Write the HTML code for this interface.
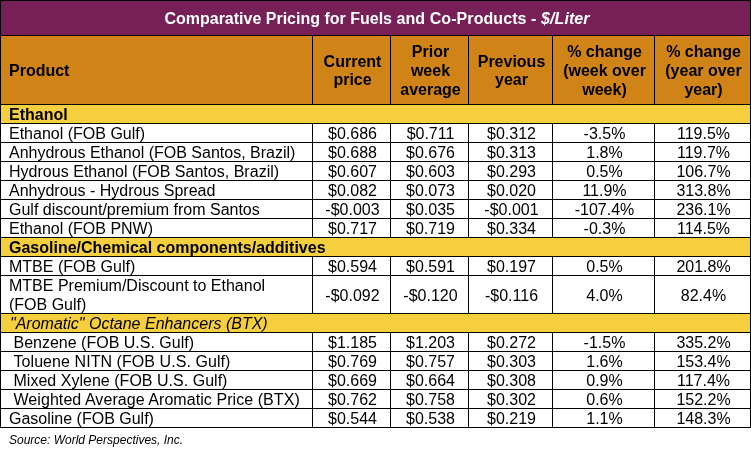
<!DOCTYPE html>
<html>
<head>
<meta charset="utf-8">
<title>Comparative Pricing for Fuels and Co-Products</title>
<style>
html,body{margin:0;padding:0;background:#fff;}
body{width:751px;height:449px;overflow:hidden;font-family:"Liberation Sans",sans-serif;font-size:16px;color:#000;}
table{border-collapse:separate;border-spacing:0;table-layout:fixed;width:751px;border-top:1px solid #000;border-left:1px solid #000;}
td,th{box-sizing:border-box;border-right:1px solid #000;border-bottom:1px solid #000;padding:2px 0 0 2px;margin:0;height:19px;line-height:16px;font-weight:normal;text-align:center;vertical-align:middle;white-space:nowrap;overflow:hidden;}
td.l,th.l{text-align:left;padding-left:8px;}
tr.title th{height:35px;padding:2px 0 0 3px;line-height:32px;background:#772057;color:#fff;font-weight:bold;}
tr.head th.h2{line-height:18px;padding-top:1px;}
tr.title .ls{letter-spacing:0.08px;}
tr.head th{height:69px;padding-top:0;background:#d08418;font-weight:bold;line-height:19px;}
tr.sec td{background:#f6cf3f;text-align:left;padding-left:8px;font-weight:bold;}
tr.sec.it td{font-weight:normal;font-style:italic;padding-left:9px;}
tr.two td{height:38px;padding-top:2px;line-height:19px;}
tr.two td.l{vertical-align:top;padding-top:0;}
tr.two td.l div{height:37px;line-height:19px;}
td.l.ind{padding-left:12.5px;}
.src{position:absolute;left:9px;top:433px;font-size:12px;font-style:italic;line-height:14px;}
</style>
</head>
<body>
<table>
<colgroup><col style="width:312px"><col style="width:78px"><col style="width:78px"><col style="width:84px"><col style="width:102px"><col style="width:96px"></colgroup>
<tr class="title"><th colspan="6">Comparative Pricing for Fuels <span class="ls">and Co-Products - <i>$/Liter</i></span></th></tr>
<tr class="head"><th class="l">Product</th><th class="h2">Current<br>price</th><th>Prior<br>week<br>average</th><th class="h2">Previous<br>year</th><th>% change<br>(week over<br>week)</th><th>% change<br>(year over<br>year)</th></tr>
<tr class="sec"><td colspan="6">Ethanol</td></tr>
<tr><td class="l">Ethanol (FOB Gulf)</td><td>$0.686</td><td>$0.711</td><td>$0.312</td><td>-3.5%</td><td>119.5%</td></tr>
<tr><td class="l">Anhydrous Ethanol (FOB Santos, Brazil)</td><td>$0.688</td><td>$0.676</td><td>$0.313</td><td>1.8%</td><td>119.7%</td></tr>
<tr><td class="l" style="letter-spacing:0.02px">Hydrous Ethanol (FOB Santos, Brazil)</td><td>$0.607</td><td>$0.603</td><td>$0.293</td><td>0.5%</td><td>106.7%</td></tr>
<tr><td class="l">Anhydrous - Hydrous Spread</td><td>$0.082</td><td>$0.073</td><td>$0.020</td><td>11.9%</td><td>313.8%</td></tr>
<tr><td class="l">Gulf discount/premium from Santos</td><td>-$0.003</td><td>$0.035</td><td>-$0.001</td><td>-107.4%</td><td>236.1%</td></tr>
<tr><td class="l">Ethanol (FOB PNW)</td><td>$0.717</td><td>$0.719</td><td>$0.334</td><td>-0.3%</td><td>114.5%</td></tr>
<tr class="sec"><td colspan="6">Gasoline/Chemical components/additives</td></tr>
<tr><td class="l">MTBE (FOB Gulf)</td><td>$0.594</td><td>$0.591</td><td>$0.197</td><td>0.5%</td><td>201.8%</td></tr>
<tr class="two"><td class="l"><div>MTBE Premium/Discount to Ethanol<br>(FOB Gulf)</div></td><td>-$0.092</td><td>-$0.120</td><td>-$0.116</td><td>4.0%</td><td>82.4%</td></tr>
<tr class="sec it"><td colspan="6">"Aromatic" Octane Enhancers (BTX)</td></tr>
<tr><td class="l ind">Benzene (FOB U.S. Gulf)</td><td>$1.185</td><td>$1.203</td><td>$0.272</td><td>-1.5%</td><td>335.2%</td></tr>
<tr><td class="l ind" style="letter-spacing:0.065px">Toluene NITN (FOB U.S. Gulf)</td><td>$0.769</td><td>$0.757</td><td>$0.303</td><td>1.6%</td><td>153.4%</td></tr>
<tr><td class="l ind" style="letter-spacing:0.02px">Mixed Xylene (FOB U.S. Gulf)</td><td>$0.669</td><td>$0.664</td><td>$0.308</td><td>0.9%</td><td>117.4%</td></tr>
<tr><td class="l ind" style="letter-spacing:0.062px">Weighted Average Aromatic Price (BTX)</td><td>$0.762</td><td>$0.758</td><td>$0.302</td><td>0.6%</td><td>152.2%</td></tr>
<tr><td class="l">Gasoline (FOB Gulf)</td><td>$0.544</td><td>$0.538</td><td>$0.219</td><td>1.1%</td><td>148.3%</td></tr>
</table>
<div class="src">Source: World Perspectives, Inc.</div>
</body>
</html>
